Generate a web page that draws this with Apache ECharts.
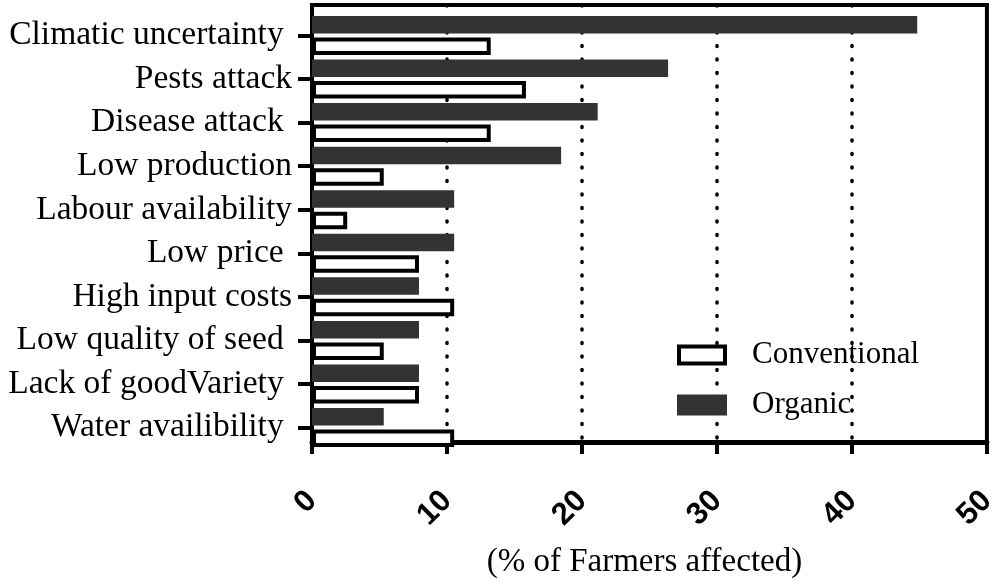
<!DOCTYPE html>
<html>
<head>
<meta charset="utf-8">
<script src="https://cdn.jsdelivr.net/npm/echarts@6/dist/echarts.min.js"></script>
<style>
html,body{margin:0;padding:0;background:#fff;}
#main{width:1000px;height:584px;}
</style>
</head>
<body>
<div id="main"></div>
<script>
const categories = [
  'Climatic uncertainty ',
  'Pests attack',
  'Disease attack ',
  'Low production',
  'Labour availability',
  'Low price ',
  'High input costs',
  'Low quality of seed ',
  'Lack of goodVariety ',
  'Water availibility '
];
const organic = [44.7, 26.3, 21.1, 18.4, 10.5, 10.5, 7.9, 7.9, 7.9, 5.3];
const conventional = [13.2, 15.8, 13.2, 5.3, 2.6, 7.9, 10.5, 5.3, 7.9, 10.5];
const xTicks = { min: 0, max: 50, interval: 10 };
const axisTitle = '(% of Farmers affected)';

const chart = echarts.init(document.getElementById('main'), null, { renderer: 'canvas' });
const serif = '"Liberation Serif", "Times New Roman", serif';
const sans = '"Liberation Sans", Arial, sans-serif';

chart.setOption({
  animation: false,
  backgroundColor: '#fff',
  grid: [
    { left: 312, right: 11, top: 5, bottom: 128, show: true, borderColor: '#000', borderWidth: 4, backgroundColor: 'transparent' },
    { left: 312, right: 11, top: 13.7, height: 435.6 }
  ],
  legend: {
    orient: 'vertical',
    left: 677,
    top: 339,
    padding: 0,
    icon: 'rect',
    itemWidth: 46,
    itemHeight: 17,
    itemGap: 18,
    textStyle: { fontFamily: serif, fontSize: 31, color: '#000', lineHeight: 32, padding: [0, 0, 0, 22] },
    data: [
      { name: 'Conventional', icon: 'rect', itemStyle: { color: '#fff', borderColor: '#000', borderWidth: 4 } },
      { name: 'Organic', icon: 'rect', itemStyle: { color: '#333', borderColor: '#333', borderWidth: 4 } }
    ]
  },
  xAxis: [
    {
      gridIndex: 0,
      type: 'value',
      min: xTicks.min, max: xTicks.max, interval: xTicks.interval,
      axisLine: { show: true, lineStyle: { color: '#000', width: 5 } },
      axisTick: { show: true, length: 12, lineStyle: { color: '#000', width: 4 } },
      axisLabel: { rotate: 45, margin: 54, fontFamily: sans, fontWeight: 'bold', fontSize: 31, color: '#000' },
      splitLine: { show: true, showMinLine: false, showMaxLine: false, lineStyle: { color: '#000', width: 3.5, type: [1, 12.5], cap: 'round' } },
      name: axisTitle,
      nameLocation: 'middle',
      nameGap: 104,
      nameTextStyle: { fontFamily: serif, fontSize: 33, color: '#000', padding: [0, 10, 0, 0] }
    },
    {
      gridIndex: 1,
      type: 'value',
      min: xTicks.min, max: xTicks.max, interval: xTicks.interval,
      show: false
    }
  ],
  yAxis: [
    { gridIndex: 0, type: 'value', show: false },
    {
      gridIndex: 1,
      type: 'category',
      data: categories,
      inverse: true,
      axisLine: { show: false },
      axisTick: { show: true, alignWithLabel: true, interval: 0, length: 14, lineStyle: { color: '#000', width: 4 } },
      axisLabel: { interval: 0, margin: 20, fontFamily: serif, fontSize: 33.5, color: '#000' },
      splitLine: { show: false }
    }
  ],
  series: [
    {
      name: 'Organic',
      type: 'bar',
      xAxisIndex: 1, yAxisIndex: 1,
      data: organic,
      barWidth: 17.5,
      barGap: '23%',
      itemStyle: { color: '#333', borderColor: '#333', borderWidth: 4 }
    },
    {
      name: 'Conventional',
      type: 'bar',
      xAxisIndex: 1, yAxisIndex: 1,
      data: conventional,
      barWidth: 17.5,
      barGap: '23%',
      itemStyle: { color: '#fff', borderColor: '#000', borderWidth: 4 }
    }
  ]
});
</script>
</body>
</html>
